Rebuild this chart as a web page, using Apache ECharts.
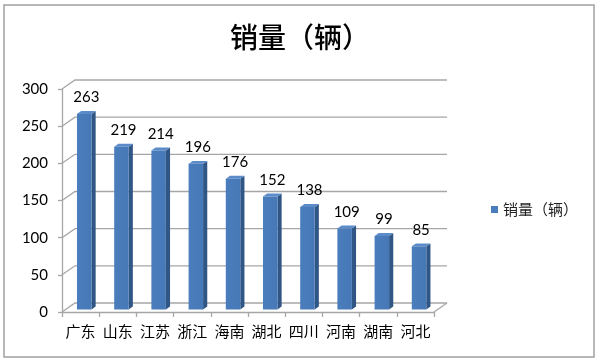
<!DOCTYPE html>
<html><head><meta charset="utf-8">
<script src="https://cdn.jsdelivr.net/npm/echarts@6/dist/echarts.min.js"></script>
<style>html,body{margin:0;padding:0;background:#fff}#c{width:600px;height:362px}</style>
</head><body><div id="c"></div>
<script>
const categories = ['广东','山东','江苏','浙江','海南','湖北','四川','河南','湖南','河北'];
const sales = [263,219,214,196,176,152,138,109,99,85];
const yTicks = [0,50,100,150,200,250,300];
const seriesName = '销量（辆）';

const DX = 13, DY = -9;           // depth of the 3D box (pixels)
const B0 = 0.28, B1 = 0.6;          // bar depth position (fraction of depth)
const BAR_W = 0.39;                 // bar width as fraction of band
const GRID = '#a6a6a6';

const chart = echarts.init(document.getElementById('c'));

function wallItem(params, api) {
  const v = api.value(1);
  const p0 = api.coord([0, v]);
  const bw = api.size([1, 0])[0];
  const left = p0[0] - bw / 2;
  const right = api.coord([categories.length - 1, v])[0] + bw / 2;
  const y = p0[1];
  const children = [{
    type: 'polyline',
    shape: { points: [[left, y], [left + DX, y + DY], [right + DX, y + DY]] },
    style: { stroke: GRID, lineWidth: 1.3, fill: null }
  }];
  if (v === 0) {
    children.push({
      type: 'line',
      shape: { x1: right, y1: y, x2: right + DX, y2: y + DY },
      style: { stroke: GRID, lineWidth: 1.3 }
    });
  }
  return { type: 'group', children };
}

function barItem(params, api) {
  const idx = api.value(0);
  const val = api.value(1);
  const c = api.coord([idx, val]);
  const base = api.coord([idx, 0]);
  const bw = api.size([1, 0])[0];
  const w = bw * BAR_W;
  const ox = DX * B0, oy = DY * B0;
  const sx = DX * (B1 - B0), sy = DY * (B1 - B0);
  const x0 = c[0] - w / 2 + ox, x1 = x0 + w;
  const yt = c[1] + oy, yb = base[1] + oy;
  return {
    type: 'group',
    children: [
      { type: 'polygon', shape: { points: [[x1, yt], [x1 + sx, yt + sy], [x1 + sx, yb + sy], [x1, yb]] },
        style: { fill: '#2f5685' } },
      { type: 'polygon', shape: { points: [[x0, yt], [x0 + sx, yt + sy], [x1 + sx, yt + sy], [x1, yt]] },
        style: { fill: '#5b8bc8' } },
      { type: 'rect', shape: { x: x0, y: yt, width: w, height: yb - yt },
        style: { fill: new echarts.graphic.LinearGradient(0, 0, 1, 0, [
          { offset: 0, color: '#4a7dbd' }, { offset: 1, color: '#4778b6' }]) } },
      { type: 'text', x: x0 + w / 2 + sx / 2, y: yt + sy - 6,
        style: { text: String(val), textAlign: 'center', textVerticalAlign: 'bottom',
          fill: '#000', font: '15px Lato, "Liberation Sans", sans-serif' } }
    ]
  };
}

chart.setOption({
  animation: false,
  backgroundColor: '#fff',
  title: {
    text: seriesName, left: 'center', top: 18,
    textStyle: { fontFamily: '"Noto Sans CJK SC"', fontSize: 28, fontWeight: 500, color: '#000' }
  },
  legend: {
    data: [{ name: seriesName, icon: 'rect' }],
    left: 486, top: 197, itemWidth: 7, itemHeight: 7, itemGap: 3,
    textStyle: { fontFamily: '"Noto Sans CJK SC"', fontSize: 15, color: '#222' }
  },
  grid: { left: 62, right: 166, top: 89, bottom: 50 },
  xAxis: {
    type: 'category', data: categories,
    axisLine: { lineStyle: { color: GRID, width: 1.3 } },
    axisTick: { show: true, length: 5, lineStyle: { color: GRID, width: 1.3 } },
    axisLabel: { color: '#000', fontFamily: '"Noto Sans CJK SC"', fontSize: 15, margin: 12, interval: 0 }
  },
  yAxis: {
    type: 'value', min: 0, max: 300, interval: 50,
    axisLine: { show: true, lineStyle: { color: GRID, width: 1.3 } },
    axisTick: { show: true, length: 4, lineStyle: { color: GRID, width: 1.3 } },
    splitLine: { show: false },
    axisLabel: { color: '#000', fontFamily: 'Lato, "Liberation Sans", sans-serif', fontSize: 15, margin: 14 }
  },
  graphic: [{
    type: 'rect', shape: { x: 4, y: 5, width: 590, height: 352 },
    style: { fill: null, stroke: '#a0a0a0', lineWidth: 1.5 }, z: 100
  }],
  series: [
    { type: 'custom', name: 'wall', renderItem: wallItem, clip: false, silent: true, z: 1,
      data: yTicks.map(v => [0, v]) },
    { type: 'custom', name: seriesName, renderItem: barItem, clip: false, z: 2,
      itemStyle: { color: '#4a7dbd' },
      data: sales.map((v, i) => [i, v]) }
  ]
});
</script></body></html>
